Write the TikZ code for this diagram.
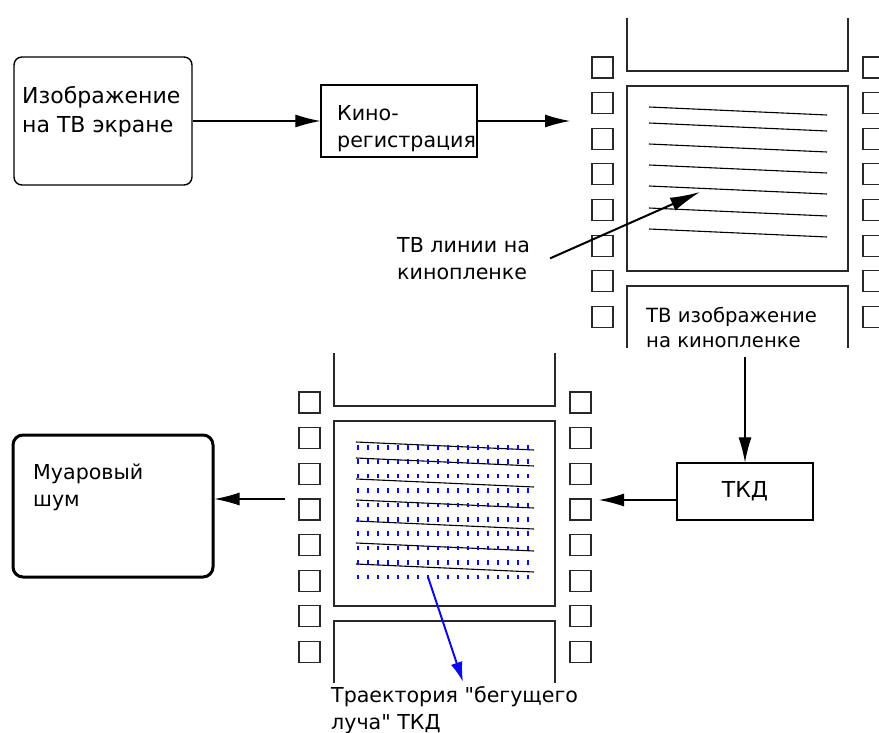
\documentclass[tikz,border=0pt]{standalone}
\usepackage{fontspec}
\setmainfont{DejaVu Sans}[Ligatures=TeXOff]
\usetikzlibrary{arrows.meta}

\begin{document}
\begin{tikzpicture}[x=1pt, y=-1pt, >={Latex[length=25pt,width=13pt]}]

\definecolor{filmgray}{RGB}{40, 40, 40}
\definecolor{beamblue}{RGB}{10, 10, 235}

\tikzset{
    round box/.style={
        draw=black, line width=1.4pt, rectangle, rounded corners=8pt, inner sep=0pt
    },
    plain box/.style={
        draw=black, line width=1.2pt, rectangle, inner sep=0pt
    },
    label text/.style={
        anchor=north west, inner sep=0pt, align=left,
        font=\fontsize{20.6}{27}\selectfont
    },
    flow/.style={->, line width=1.1pt},
    pointer/.style={-{Latex[length=30pt,width=14pt]}, line width=2pt},
    beam/.style={-{Latex[length=20pt,width=12pt]}, draw=beamblue, line width=2pt},
    film/.style={draw=filmgray, line width=1.1pt},
    scan/.style={draw=black, line width=1.1pt},
    filmstrip/.pic={
        \draw[film] (0,0) rectangle (221,185);
        \draw[film] (0,-68) -- (0,-15) -- (221,-15) -- (221,-68);
        \draw[film] (0,262) -- (0,200) -- (221,200) -- (221,262);
        \foreach \k in {0,...,7} {
            \draw[film] (-35,-29+35.65*\k) rectangle ++(21,21);
            \draw[film] (236,-29+35.65*\k) rectangle ++(21,21);
        }
        \foreach \y in {21,37,58,79,100,122,143}
            \draw[scan] (22,\y) -- (200,\y+8);
    }
}

\useasboundingbox (0,0) rectangle (879,733);
\clip (0,0) rectangle (879,733);

% --- TOP ROW ---
\node[round box, minimum width=178pt, minimum height=128pt] (screen) at (103,121) {};
\node[label text, font=\fontsize{22}{29}\selectfont] (screen text) at (22,86) {Изображение\\на ТВ экране};

\node[plain box, minimum width=156pt, minimum height=72pt] (kino) at (399,121) {};
\node[label text] (kino text) at (337,105) {Кино-\\регистрация};

% film with TV lines
\pic at (627,86) {filmstrip};
\node[label text, font=\fontsize{19.6}{25.5}\selectfont] (film text) at (646,307) {ТВ изображение\\на кинопленке};
\node[label text] (lines text) at (397,237) {ТВ линии на\\кинопленке};

\coordinate (filmA in) at (570,121);
\coordinate (filmA out) at (745,357);
\coordinate (lines tip) at (700,192);

% --- BOTTOM ROW ---
\node[plain box, minimum width=136pt, minimum height=57pt, font=\fontsize{22}{27}\selectfont] (tkd) at (745,491.5) {ТКД};

\node[round box, line width=3pt, rounded corners=10pt, minimum width=200pt, minimum height=142pt] (moire) at (113,506) {};
\node[label text] (moire text) at (33,464) {Муаровый\\шум};

% film scanned by the beam
\pic at (334,421) {filmstrip};
\foreach \r in {0,...,9}
    \foreach \c in {0,...,17}
        \fill[beamblue] (357+10*\c,445+14.4*\r) rectangle ++(2.4,4.5);

\node[label text] (beam text) at (331,686) {Траектория "бегущего\\луча" ТКД};

\coordinate (filmB in) at (599,500);
\coordinate (filmB out) at (285,499);
\coordinate (beam start) at (428,577);
\coordinate (beam tip) at (463,682);

% --- CONNECTORS ---
\draw[flow] (screen) -- (kino);
\draw[flow] (kino) -- (filmA in);
\draw[flow] (filmA out) -- (tkd);
\draw[flow] (tkd.west |- filmB in) -- (filmB in);
\draw[flow] (filmB out) -- (filmB out -| moire.east);
\draw[pointer] ([xshift=20pt]lines text.east) -- (lines tip);
\draw[beam] (beam start) -- (beam tip);

\end{tikzpicture}
\end{document}
